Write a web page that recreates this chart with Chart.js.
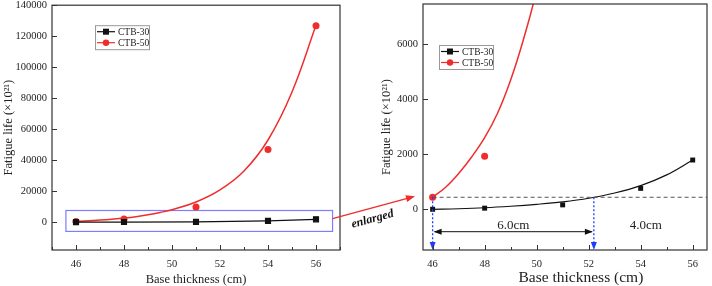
<!DOCTYPE html>
<html>
<head>
<meta charset="utf-8">
<script src="https://cdn.jsdelivr.net/npm/chart.js@4.4.0/dist/chart.umd.min.js"></script>
<style>
  body { margin: 0; background: #fff; width: 712px; height: 286px; position: relative; overflow: hidden; }
  #left { position: absolute; left: 0; top: 0; }
  #right { position: absolute; left: 378px; top: 0; }
  #overlay { position: absolute; left: 0; top: 0; pointer-events: none; }
</style>
</head>
<body>
<canvas id="left" width="352" height="286"></canvas>
<canvas id="right" width="334" height="286"></canvas>
<canvas id="overlay" width="712" height="286"></canvas>
<script>
// base thickness (cm) and fatigue life (x10^21)
const thickness = [46, 48, 51, 54, 56];
const ctb30 = [0, 40, 160, 760, 1790];
const ctb50 = [436, 1930, 9800, 46800, 126700];

// fitted curves
const fit50X = [46, 46.5, 47, 47.5, 48, 48.5, 49, 49.5, 50, 51, 52, 53, 54, 55, 56];
const fit50Y = [436, 800, 1300, 1900, 2600, 3500, 4700, 6200, 8000, 13000, 20800, 33000, 53000, 84000, 127000];
const fit30X = [46, 47, 48, 49, 50, 51, 52, 53, 54, 55, 56];
const fit30Y = [0, 20, 55, 110, 180, 270, 400, 590, 860, 1250, 1790];

const xTicks = [46, 48, 50, 52, 54, 56];
const yTicksMain = [0, 20000, 40000, 60000, 80000, 100000, 120000, 140000];
const yTicksZoom = [0, 2000, 4000, 6000];

const crossX = 52.2;        // CTB-30 fit reaches CTB-50 value at 46 cm
const zoomBox = { x0: 45.58, x1: 56.69, y0: -6000, y1: 7500 };

const SERIF = "'Liberation Serif', 'Times New Roman', serif";
const RED = 'rgb(240,45,45)';
const BLACK = '#111';
const TEXT = '#222';

function pts(xs, ys) { return xs.map((x, i) => ({ x: x, y: ys[i] })); }

// frame + inward ticks
const framePlugin = {
  id: 'frame',
  afterDraw(chart) {
    const { ctx, chartArea: a, scales } = chart;
    ctx.save();
    ctx.strokeStyle = '#333';
    ctx.lineWidth = 1.2;
    ctx.strokeRect(a.left, a.top, a.right - a.left, a.bottom - a.top);
    ctx.lineWidth = 1;
    ctx.beginPath();
    for (let v = Math.ceil(scales.x.min); v <= scales.x.max; v++) {
      const px = Math.round(scales.x.getPixelForValue(v)) + 0.5;
      const len = xTicks.includes(v) ? 5 : 3;
      ctx.moveTo(px, a.bottom);
      ctx.lineTo(px, a.bottom - len);
    }
    scales.y.ticks.forEach(t => {
      const py = Math.round(scales.y.getPixelForValue(t.value)) + 0.5;
      ctx.moveTo(a.left, py);
      ctx.lineTo(a.left + 5, py);
    });
    ctx.stroke();
    ctx.restore();
  }
};

// legend box drawn inside the plot
function legendPlugin(dx, dy) {
  return {
    id: 'boxLegend',
    afterDraw(chart) {
      const { ctx, chartArea: a } = chart;
      const bx = a.left + dx, by = a.top + dy;
      const items = [
        { label: 'CTB-30', color: BLACK, style: 'rect' },
        { label: 'CTB-50', color: RED, style: 'circle' }
      ];
      ctx.save();
      ctx.strokeStyle = '#999';
      ctx.lineWidth = 1;
      ctx.strokeRect(bx + 0.5, by + 0.5, 54, 24);
      ctx.font = '9.5px ' + SERIF;
      ctx.textBaseline = 'middle';
      items.forEach((it, i) => {
        const cy = by + 6.5 + i * 11;
        ctx.strokeStyle = it.color;
        ctx.fillStyle = it.color;
        ctx.lineWidth = 1.2;
        ctx.beginPath();
        ctx.moveTo(bx + 2, cy);
        ctx.lineTo(bx + 20, cy);
        ctx.stroke();
        if (it.style === 'rect') ctx.fillRect(bx + 8, cy - 3, 6, 6);
        else { ctx.beginPath(); ctx.arc(bx + 11, cy, 3.2, 0, Math.PI * 2); ctx.fill(); }
        ctx.fillStyle = TEXT;
        ctx.fillText(it.label, bx + 23, cy + 0.5);
      });
      ctx.restore();
    }
  };
}

function baseScales(xmin, xmax, ymin, ymax, yTicks, yWidth, showXTitle) {
  const tickFont = { family: SERIF, size: 10.5 };
  return {
    x: {
      type: 'linear', min: xmin, max: xmax,
      afterBuildTicks: s => { s.ticks = xTicks.map(v => ({ value: v })); },
      afterFit: s => { s.height = 36; },
      grid: { display: false, drawTicks: false },
      border: { display: false },
      ticks: { font: tickFont, color: TEXT, padding: 8, maxRotation: 0, autoSkip: false,
               callback: v => String(v) },
      title: { display: showXTitle, text: 'Base thickness (cm)', color: TEXT, padding: 0,
               font: { family: SERIF, size: 12.5, lineHeight: 1 } }
    },
    y: {
      type: 'linear', min: ymin, max: ymax,
      afterBuildTicks: s => { s.ticks = yTicks.map(v => ({ value: v })); },
      afterFit: s => { s.width = yWidth; s.paddingTop = 0; s.paddingBottom = 0; },
      grid: { display: false, drawTicks: false },
      border: { display: false },
      ticks: { font: tickFont, color: TEXT, padding: 5, callback: v => String(v) },
      title: { display: true, text: 'Fatigue life (×10²¹)', color: TEXT, padding: { top: 2, bottom: 0 },
               font: { family: SERIF, size: 12.5, lineHeight: 1 } }
    }
  };
}

// left: full range
const boxPlugin = {
  id: 'zoomBox',
  beforeDatasetsDraw(chart) {
    const { ctx, scales: { x, y } } = chart;
    ctx.save();
    ctx.strokeStyle = 'rgb(125,125,255)';
    ctx.lineWidth = 1.2;
    const l = x.getPixelForValue(zoomBox.x0), r = x.getPixelForValue(zoomBox.x1);
    const t = y.getPixelForValue(zoomBox.y1), b = y.getPixelForValue(zoomBox.y0);
    ctx.strokeRect(l, t, r - l, b - t);
    ctx.restore();
  }
};

const leftChart = new Chart(document.getElementById('left'), {
  type: 'scatter',
  data: {
    datasets: [
      { label: 'CTB-30', data: pts(thickness, ctb30), showLine: true, borderColor: BLACK, backgroundColor: BLACK,
        borderWidth: 1.2, pointStyle: 'rect', pointRadius: 3.5 },
      { label: 'CTB-50', data: pts(thickness, ctb50), showLine: false, backgroundColor: RED, borderColor: RED,
        pointRadius: 3.5, pointBorderWidth: 0 },
      { label: 'CTB-50 fit', data: pts(fit50X, fit50Y), showLine: true, borderColor: RED, borderWidth: 1.5,
        pointRadius: 0, tension: 0.4 }
    ]
  },
  options: {
    responsive: false, animation: false, devicePixelRatio: 1,
    layout: { padding: { top: 4, right: 12, bottom: 0, left: 0 } },
    plugins: { legend: { display: false }, tooltip: { enabled: false } },
    scales: baseScales(45, 57, -18000, 140000, yTicksMain, 52, true)
  },
  plugins: [boxPlugin, framePlugin, legendPlugin(43, 20)]
});

// right: enlarged view with the thickness markers
const notePlugin = {
  id: 'notes',
  afterDatasetsDraw(chart) {
    const { ctx, chartArea: a, scales: { x, y } } = chart;
    const yRef = y.getPixelForValue(ctb50[0]);
    const xa = x.getPixelForValue(thickness[0]), xb = x.getPixelForValue(crossX);
    ctx.save();
    // dashed reference level
    ctx.strokeStyle = '#555';
    ctx.lineWidth = 1;
    ctx.setLineDash([4, 3]);
    ctx.beginPath();
    ctx.moveTo(xa, yRef); ctx.lineTo(a.right, yRef);
    ctx.stroke();
    // blue dotted drops
    ctx.strokeStyle = 'rgb(30,60,255)';
    ctx.fillStyle = 'rgb(30,60,255)';
    ctx.lineWidth = 1.3;
    ctx.setLineDash([2, 2]);
    [xa, xb].forEach(px => {
      ctx.beginPath();
      ctx.moveTo(px, yRef); ctx.lineTo(px, a.bottom - 6);
      ctx.stroke();
    });
    ctx.setLineDash([]);
    [xa, xb].forEach(px => {
      ctx.beginPath();
      ctx.moveTo(px - 3, a.bottom - 8); ctx.lineTo(px + 3, a.bottom - 8); ctx.lineTo(px, a.bottom);
      ctx.closePath(); ctx.fill();
    });
    // double arrow
    const ya = y.getPixelForValue(-815);
    ctx.strokeStyle = BLACK; ctx.fillStyle = BLACK; ctx.lineWidth = 1;
    ctx.beginPath(); ctx.moveTo(xa + 2, ya); ctx.lineTo(xb - 2, ya); ctx.stroke();
    ctx.beginPath(); ctx.moveTo(xa + 1, ya); ctx.lineTo(xa + 9, ya - 3); ctx.lineTo(xa + 9, ya + 3); ctx.closePath(); ctx.fill();
    ctx.beginPath(); ctx.moveTo(xb - 1, ya); ctx.lineTo(xb - 9, ya - 3); ctx.lineTo(xb - 9, ya + 3); ctx.closePath(); ctx.fill();
    // labels
    ctx.font = '13px ' + SERIF;
    ctx.fillStyle = TEXT;
    ctx.textAlign = 'center';
    ctx.textBaseline = 'middle';
    const yt = y.getPixelForValue(-600);
    ctx.fillText('6.0cm', (xa + xb) / 2, yt);
    ctx.fillText('4.0cm', x.getPixelForValue(54.2), yt);
    // x title, set a little right of centre as in the figure
    ctx.font = '15.5px ' + SERIF;
    ctx.fillText('Base thickness (cm)', a.left + (a.right - a.left) * 0.556, chart.height - 8);
    ctx.restore();
  }
};

const rightChart = new Chart(document.getElementById('right'), {
  type: 'scatter',
  data: {
    datasets: [
      { label: 'CTB-30', data: pts(thickness, ctb30), showLine: false, backgroundColor: BLACK, borderColor: BLACK,
        pointStyle: 'rect', pointRadius: 3.5, pointBorderWidth: 0 },
      { label: 'CTB-50', data: pts(thickness, ctb50), showLine: false, backgroundColor: RED, borderColor: RED,
        pointRadius: 3.5, pointBorderWidth: 0 },
      { label: 'CTB-30 fit', data: pts(fit30X, fit30Y), showLine: true, borderColor: BLACK, borderWidth: 1.2,
        pointRadius: 0, tension: 0.4 },
      { label: 'CTB-50 fit', data: pts(fit50X, fit50Y), showLine: true, borderColor: RED, borderWidth: 1.5,
        pointRadius: 0, tension: 0.4 }
    ]
  },
  options: {
    responsive: false, animation: false, devicePixelRatio: 1,
    layout: { padding: { top: 4, right: 5, bottom: 0, left: 0 } },
    plugins: { legend: { display: false }, tooltip: { enabled: false } },
    scales: baseScales(45.63, 56.55, -1480, 7460, yTicksZoom, 45, false)
  },
  plugins: [notePlugin, framePlugin, legendPlugin(16, 41)]
});

// "enlarged" arrow between the two panels
(function () {
  const ctx = document.getElementById('overlay').getContext('2d');
  const offR = 378;
  const sx = leftChart.scales.x.getPixelForValue(zoomBox.x1);
  const sy = leftChart.scales.y.getPixelForValue((zoomBox.y0 + zoomBox.y1) / 2 + 1500);
  const ex = offR + rightChart.chartArea.left - 8;
  const ey = rightChart.scales.y.getPixelForValue(ctb50[0]) - 1;
  const ang = Math.atan2(ey - sy, ex - sx);
  ctx.strokeStyle = RED; ctx.fillStyle = RED; ctx.lineWidth = 1.5;
  ctx.beginPath(); ctx.moveTo(sx, sy);
  ctx.lineTo(ex - 7 * Math.cos(ang), ey - 7 * Math.sin(ang)); ctx.stroke();
  ctx.save();
  ctx.translate(ex, ey); ctx.rotate(ang);
  ctx.beginPath(); ctx.moveTo(0, 0); ctx.lineTo(-9, -3.5); ctx.lineTo(-9, 3.5); ctx.closePath(); ctx.fill();
  ctx.restore();
  ctx.save();
  const mx = sx + (ex - sx) * 0.45, my = sy + (ey - sy) * 0.45;
  ctx.translate(mx, my); ctx.rotate(ang);
  ctx.font = 'italic bold 12px ' + SERIF;
  ctx.fillStyle = '#111';
  ctx.textAlign = 'center'; ctx.textBaseline = 'middle';
  ctx.fillText('enlarged', 0, 11);
  ctx.restore();
})();
</script>
</body>
</html>
